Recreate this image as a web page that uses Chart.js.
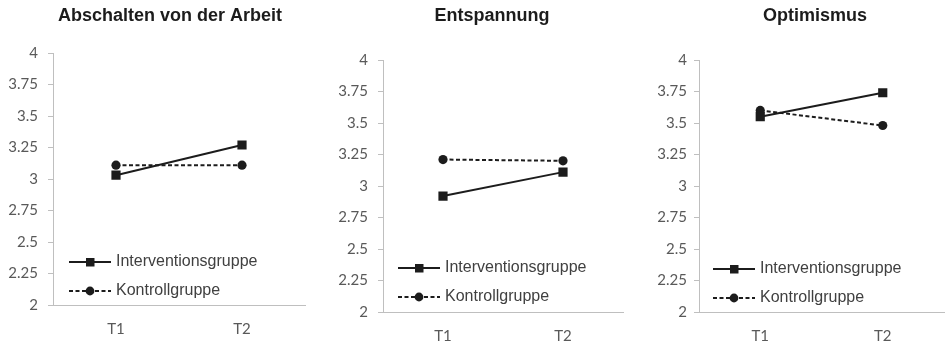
<!DOCTYPE html>
<html>
<head>
<meta charset="utf-8">
<script src="https://cdn.jsdelivr.net/npm/chart.js@4.4.0/dist/chart.umd.min.js"></script>
<style>
  html, body { margin: 0; padding: 0; background: #fff; overflow: hidden; }
  body { width: 946px; height: 344px; position: relative; }
  canvas { position: absolute; top: 0; }
</style>
</head>
<body>
<canvas id="chart1" width="330" height="344" style="left:5px"></canvas>
<canvas id="chart2" width="324" height="344" style="left:330px"></canvas>
<canvas id="chart3" width="330" height="344" style="left:650px"></canvas>
<script>
// Daten
const zeitpunkte = ['T1', 'T2'];
const gruppen = ['Interventionsgruppe', 'Kontrollgruppe'];
const yTickLabels = ['2', '2.25', '2.5', '2.75', '3', '3.25', '3.5', '3.75', '4'];

const abschaltenIG = [3.03, 3.27];
const abschaltenKG = [3.11, 3.11];
const entspannungIG = [2.92, 3.11];
const entspannungKG = [3.21, 3.20];
const optimismusIG = [3.55, 3.74];
const optimismusKG = [3.60, 3.48];

const ink = '#1c1c1c';
const axisGrey = '#bfbfbf';
const tickFont = { family: 'Lato, "Open Sans", sans-serif', size: 15 };

// kleines Bild fuer die Legende: Linie mit Marker in der Mitte
function makeLegendIcon(dashed, square) {
  const c = document.createElement('canvas');
  c.width = 42;
  c.height = 12;
  const ctx = c.getContext('2d');
  ctx.strokeStyle = ink;
  ctx.lineWidth = 2;
  if (dashed) ctx.setLineDash([4, 2.5]);
  ctx.beginPath();
  ctx.moveTo(0, 6);
  ctx.lineTo(42, 6);
  ctx.stroke();
  ctx.fillStyle = ink;
  if (square) {
    ctx.fillRect(17, 2, 8.5, 8.5);
  } else {
    ctx.beginPath();
    ctx.arc(21, 6, 4.4, 0, Math.PI * 2);
    ctx.fill();
  }
  return c;
}
const legendIcons = [makeLegendIcon(false, true), makeLegendIcon(true, false)];

// Legende unten links in die Zeichenflaeche schieben
const legendNudge = {
  id: 'legendNudge',
  afterLayout(chart, args, opts) {
    const l = chart.legend;
    const ca = chart.chartArea;
    l.left = ca.left + (opts.dx || 0);
    l.right = ca.right;
    l.top = ca.top;
    l.bottom = ca.bottom + (opts.dy || 0);
  }
};

function buildPanel(canvasId, title, igValues, kgValues, layout) {
  const ctx = document.getElementById(canvasId).getContext('2d');
  return new Chart(ctx, {
    type: 'line',
    data: {
      labels: zeitpunkte,
      datasets: [{
        label: gruppen[0],
        data: igValues,
        borderColor: ink,
        borderWidth: 2,
        pointStyle: 'rect',
        pointRadius: 6.5,
        pointBorderWidth: 0,
        pointBackgroundColor: ink,
        pointBorderColor: ink,
        tension: 0
      }, {
        label: gruppen[1],
        data: kgValues,
        borderColor: ink,
        borderWidth: 2,
        borderDash: [4, 2.5],
        pointStyle: 'circle',
        pointRadius: 4.6,
        pointBorderWidth: 0,
        pointBackgroundColor: ink,
        pointBorderColor: ink,
        tension: 0
      }]
    },
    plugins: [legendNudge],
    options: {
      responsive: false,
      animation: false,
      layout: { padding: 0 },
      plugins: {
        title: {
          display: true,
          text: title,
          color: ink,
          font: { family: '"Liberation Sans", Arial, sans-serif', size: 18, weight: 'bold' },
          padding: { top: 5, bottom: layout.titleBottom }
        },
        legend: {
          position: 'chartArea',
          align: 'end',
          labels: {
            usePointStyle: true,
            pointStyleWidth: 36,
            padding: 13,
            color: '#404040',
            font: { family: '"Liberation Sans", Arial, sans-serif', size: 16 },
            generateLabels: chart => Chart.defaults.plugins.legend.labels.generateLabels(chart)
              .map((item, i) => ({ ...item, pointStyle: legendIcons[i] }))
          }
        },
        legendNudge: { dx: layout.legendDx, dy: layout.legendDy },
        tooltip: { enabled: false }
      },
      scales: {
        x: {
          offset: true,
          grid: { display: false, drawTicks: false },
          border: { display: true, color: axisGrey, width: 1 },
          ticks: { color: '#595959', font: tickFont, padding: 15 },
          afterFit: scale => { scale.height = layout.xHeight; }
        },
        y: {
          min: 2,
          max: 4,
          grid: { drawOnChartArea: false, drawTicks: true, tickLength: 5, color: axisGrey },
          border: { display: true, color: axisGrey, width: 1 },
          ticks: {
            stepSize: 0.25,
            padding: layout.tickPad,
            color: '#595959',
            font: tickFont,
            callback: (value, index) => yTickLabels[index]
          },
          afterFit: scale => { scale.width = layout.yWidth; }
        },
        // leere rechte Achse, nur als Rand rechts der Zeichenflaeche
        rand: {
          position: 'right',
          grid: { display: false },
          border: { display: false },
          ticks: { display: false },
          afterFit: scale => { scale.width = layout.rightGap; }
        }
      }
    }
  });
}

buildPanel('chart1', 'Abschalten von der Arbeit', abschaltenIG, abschaltenKG,
  { yWidth: 48, rightGap: 30, titleBottom: 26.4, xHeight: 39, tickPad: 10, legendDx: 6, legendDy: 7 });
buildPanel('chart2', 'Entspannung', entspannungIG, entspannungKG,
  { yWidth: 53, rightGap: 31, titleBottom: 33.4, xHeight: 32, tickPad: 10, legendDx: 5, legendDy: 6 });
buildPanel('chart3', 'Optimismus', optimismusIG, optimismusKG,
  { yWidth: 49, rightGap: 36, titleBottom: 33.4, xHeight: 32, tickPad: 7, legendDx: 4, legendDy: 7 });
</script>
</body>
</html>
